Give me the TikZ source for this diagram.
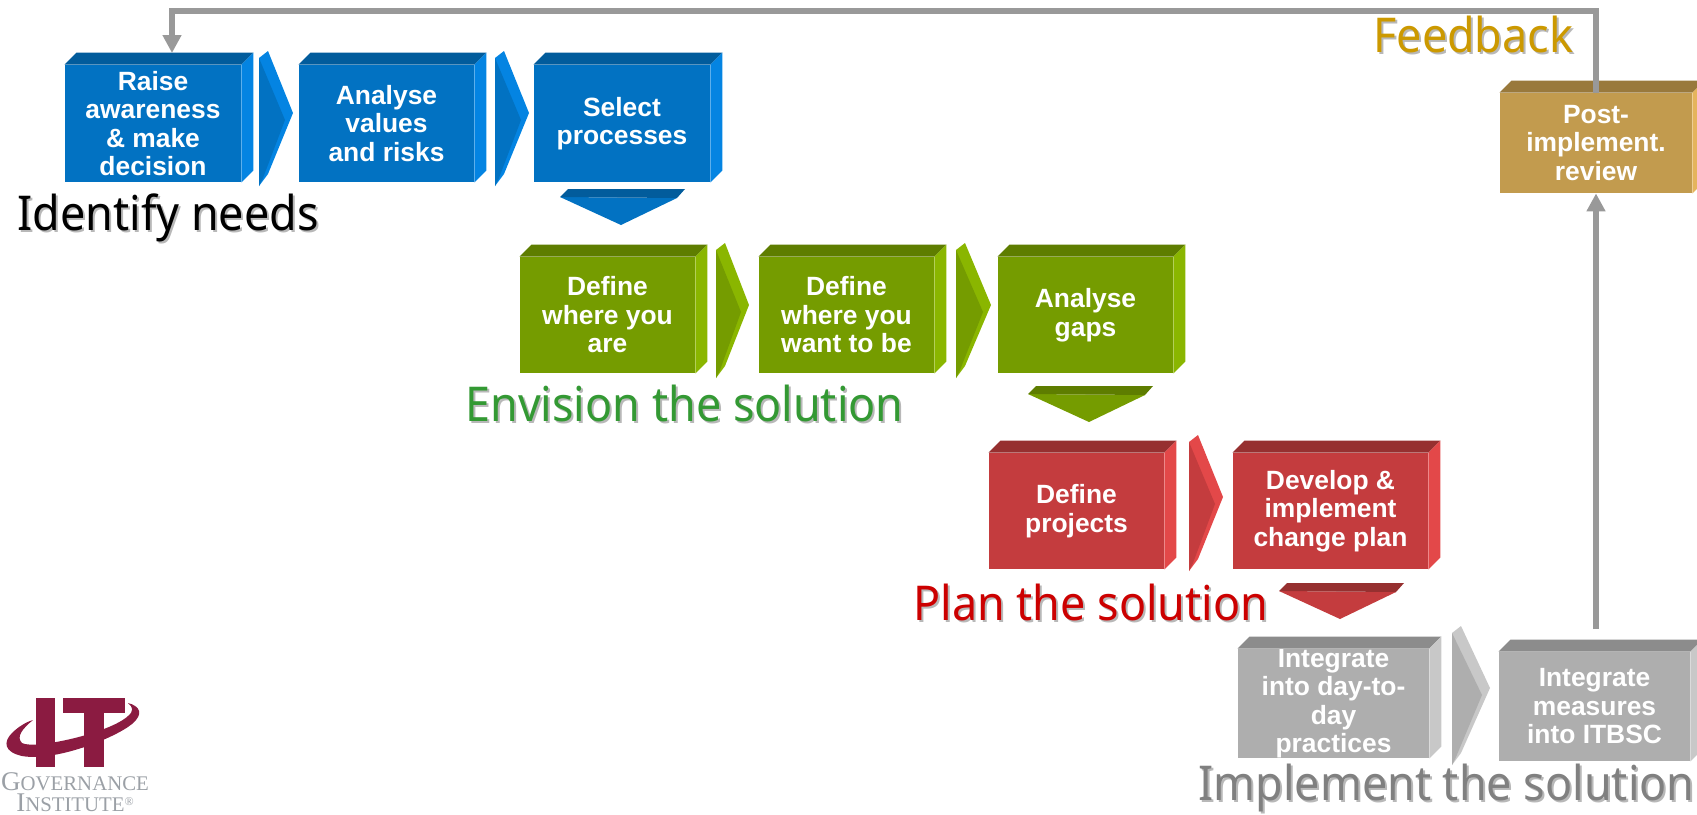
\documentclass[tikz,border=0pt]{standalone}
\usepackage{fontspec}
\setmainfont{Liberation Sans}
\newfontfamily\headfont[FakeStretch=0.935]{Noto Sans}
\newfontfamily\logofont{Liberation Serif}
\usetikzlibrary{arrows.meta}

\definecolor{blueFront}{HTML}{0272C2}
\definecolor{blueTop}{HTML}{025C9C}
\definecolor{blueSide}{HTML}{0484E2}
\definecolor{greenFront}{HTML}{759C00}
\definecolor{greenTop}{HTML}{5E7D00}
\definecolor{greenSide}{HTML}{8AB600}
\definecolor{redFront}{HTML}{C43C3E}
\definecolor{redTop}{HTML}{963030}
\definecolor{redSide}{HTML}{E34849}
\definecolor{grayFront}{HTML}{AEAEAE}
\definecolor{grayTop}{HTML}{8C8C8C}
\definecolor{graySide}{HTML}{C8C8C8}
\definecolor{goldFront}{HTML}{C29B4E}
\definecolor{goldTop}{HTML}{99793C}
\definecolor{goldSide}{HTML}{E5B45C}
\definecolor{logoRed}{HTML}{8B1B41}
\definecolor{logoGray}{HTML}{9BA0A6}
\definecolor{flowGray}{HTML}{999999}
\definecolor{headShadow}{HTML}{B8B8B8}
\definecolor{envisionText}{HTML}{339933}
\definecolor{planText}{HTML}{CC0000}
\definecolor{implementText}{HTML}{808080}
\definecolor{feedbackText}{HTML}{CC9900}

\tikzset{
	stepbox/.style={inner sep=0pt,align=center,text=white,
		font=\fontsize{13.2}{14.25}\selectfont\bfseries},
	headline/.style={inner sep=0pt,anchor=base west,font=\headfont\fontsize{24}{28}\selectfont},
	flowline/.style={draw=flowGray,line width=2.8pt,-{Triangle[width=9pt,length=9pt]}},
	logotext/.style={inner sep=0pt,align=center,text=logoGray,
		font=\logofont\fontsize{10.4}{10.2}\selectfont}
}

% name, x0, y0, x1, y1, palette, text
\newcommand{\stepBlock}[7]{
	\node[stepbox,fill=#6Front,minimum width={(#4-#2)*0.5pt},minimum height={(#5-#3)*0.5pt}]
		(#1) at ({(#2+#4)/2},{(#3+#5)/2}) {#7};
	\fill[#6Top] (#1.north west) -- ++(12,-12) -- ([shift={(12,-12)}]#1.north east) -- (#1.north east) -- cycle;
	\fill[#6Side] (#1.north east) -- ++(12,-12) -- ([shift={(12,-12)}]#1.south east) -- (#1.south east) -- cycle;
}
% name, x, baseline, colour, text
\newcommand{\headLabel}[5]{
	\node[headline,text=headShadow] (#1Shadow) at (#2+2,#3+2) {#5};
	\node[headline,text=#4] (#1) at (#2,#3) {#5};
}

\begin{document}
\begin{tikzpicture}[x=0.5pt,y=-0.5pt]
	\clip (0,0) rectangle (1697,814);

	\stepBlock{raiseAwareness}{65}{65}{241}{182}{blue}{Raise\\awareness\\\& make\\decision}
	\stepBlock{analyseValues}{299}{65}{474}{182}{blue}{Analyse\\values\\and risks}
	\stepBlock{selectProcesses}{534}{65}{710}{182}{blue}{Select\\processes}

	\stepBlock{whereYouAre}{520}{257}{695}{373}{green}{Define\\where you\\are}
	\stepBlock{whereYouWant}{759}{257}{934}{373}{green}{Define\\where you\\want to be}
	\stepBlock{analyseGaps}{998}{257}{1173}{373}{green}{Analyse\\gaps}

	\stepBlock{defineProjects}{989}{453}{1164}{569}{red}{Define\\projects}
	\stepBlock{changePlan}{1233}{453}{1428}{569}{red}{Develop \&\\implement\\change plan}

	\stepBlock{dayToDay}{1238}{649}{1429}{758}{gray}{Integrate\\into day-to-\\day\\practices}
	\stepBlock{intoITBSC}{1499}{652}{1690}{761}{gray}{Integrate\\measures\\into ITBSC}

	\stepBlock{postReview}{1500}{93}{1692}{193}{gold}{Post-\\implement.\\review}

	\foreach \lx/\ty/\tx/\my/\by/\pal in {259/51/293/113/186/blue,495/51/529/113/186/blue,
		716/243/749/305/378/green,956/243/991/305/378/green,
		1189/435/1223/497/571/red,1452/626/1490/688/765/gray}{
		\fill[\pal Side] (\lx,\ty+7) -- (\lx+9,\ty) -- (\tx,\my) -- (\lx+9,\by-12) -- (\lx,\by) -- cycle;
		\fill[\pal Front] (\lx,\ty+7) -- (\tx-8,\my+7) -- (\lx+4,\by-8) -- (\lx,\by) -- cycle;
	}

	\foreach \lx/\ty/\pal in {560/189/blue,1028/386/green,1279/583/red}{
		\fill[\pal Front] (\lx,\ty+8) -- (\lx+117,\ty+9) -- (\lx+61,\ty+36) -- cycle;
		\fill[\pal Top] (\lx,\ty+8) -- (\lx+8,\ty) -- (\lx+125,\ty) -- (\lx+117,\ty+9) -- cycle;
	}

	\headLabel{identifyLabel}{17}{230}{black}{Identify needs}
	\headLabel{envisionLabel}{465}{421}{envisionText}{Envision the solution}
	\headLabel{planLabel}{913}{620}{planText}{Plan the solution}
	\headLabel{implementLabel}{1198}{800}{implementText}{Implement the solution}
	\headLabel{feedbackLabel}{1373}{52}{feedbackText}{Feedback}

	\coordinate (feedbackTop) at (172,11);
	\coordinate (raiseTip) at (172,53);
	\coordinate (riseStart) at (1596,629);
	\draw[flowline] (postReview.north) |- (feedbackTop) -- (raiseTip);
	\draw[flowline] (riseStart) -- (postReview.south);

	\fill[logoRed] (36,698) rectangle (55,767);
	\fill[logoRed] (63,698) rectangle (125,713);
	\fill[logoRed] (84,698) rectangle (104,767);
	\fill[logoRed] (128,703) .. controls (140,706) and (144,714) .. (132,724)
		.. controls (115,738) and (55,762) .. (22,756)
		.. controls (4,752) and (3,742) .. (12,733)
		.. controls (18,727) and (26,722) .. (33,720)
		.. controls (22,729) and (16,737) .. (22,743)
		.. controls (34,750) and (110,733) .. (128,716)
		.. controls (134,711) and (133,707) .. (128,703) -- cycle;
	\node[logotext] (logoName) at (75,792) {{\fontsize{13.5}{10.2}\selectfont G}OVERNANCE\\{\fontsize{13.5}{10.2}\selectfont I}NSTITUTE{\fontsize{6}{6}\selectfont\raisebox{3pt}{®}}};
\end{tikzpicture}
\end{document}
